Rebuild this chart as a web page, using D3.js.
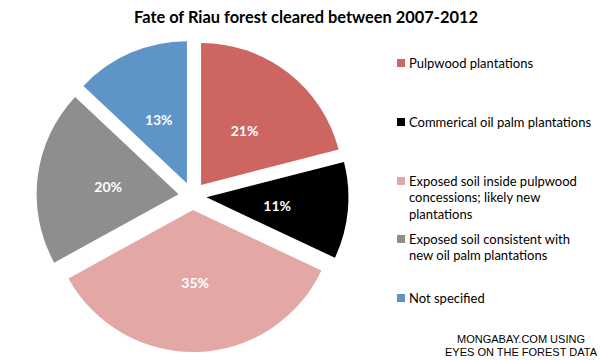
<!DOCTYPE html>
<html><head><meta charset="utf-8">
<script src="https://cdn.jsdelivr.net/npm/d3@7"></script>
<style>body{margin:0;background:#fff}svg{display:block}</style>
</head><body>
<svg id="c" width="600" height="360"></svg>
<script>
const categories = ["Pulpwood plantations","Commerical oil palm plantations","Exposed soil inside pulpwood concessions; likely new plantations","Exposed soil consistent with new oil palm plantations","Not specified"];
const legendLines = [["Pulpwood plantations"],["Commerical oil palm plantations"],["Exposed soil inside pulpwood","concessions; likely new","plantations"],["Exposed soil consistent with","new oil palm plantations"],["Not specified"]];
const values = [21, 11, 35, 20, 13];
const colors = ["#CD6660","#000000","#E3A7A6","#8E8E8E","#5E94C8"];
const title = "Fate of Riau forest cleared between 2007-2012";
const source = ["MONGABAY.COM USING","EYES ON THE FOREST DATA"];

const svg = d3.select("#c");
const font = "Lato, 'Open Sans', sans-serif";
svg.append("text").attr("x",306).attr("y",23).attr("text-anchor","middle")
  .attr("font-family",font).attr("font-weight","bold").attr("font-size",16.4).attr("fill","#000").text(title);

const cx = 192.5, cy = 196, r = 142, explode = 14;
const pie = d3.pie().sort(null).value(d=>d);
const arcs = pie(values);
const arc = d3.arc().innerRadius(0).outerRadius(r);
const g = svg.append("g").attr("transform",`translate(${cx},${cy})`);
const s = g.selectAll("g.s").data(arcs).join("g").attr("class","s")
  .attr("transform", d=>{const a=(d.startAngle+d.endAngle)/2; return `translate(${explode*Math.sin(a)},${-explode*Math.cos(a)})`;});
s.append("path").attr("d",arc).attr("fill",(d,i)=>colors[i]);
s.append("text").attr("transform",d=>{const c=arc.centroid(d); return `translate(${c[0]},${c[1]+2})`;}).attr("dy","0.36em")
  .attr("text-anchor","middle").attr("font-family",font).attr("font-weight","bold").attr("font-size",14)
  .attr("fill","#fff").text(d=>d.data+"%");

const ly = [63,122,181,239,298];
const lg = svg.append("g");
legendLines.forEach((lines,i)=>{
  lg.append("rect").attr("x",397).attr("y",ly[i]-4).attr("width",8).attr("height",8).attr("fill",colors[i]);
  lines.forEach((t,j)=>{
    lg.append("text").attr("x",409).attr("y",ly[i]+j*16.5).attr("dy","0.35em")
      .attr("font-family",font).attr("font-size",13).attr("fill","#000").text(t);
  });
});
source.forEach((t,j)=>{
  svg.append("text").attr("x",521).attr("y",339+j*13).attr("dy","0.35em").attr("text-anchor","middle")
    .attr("font-family","'Liberation Sans', Arial, sans-serif").attr("font-size",11).attr("fill","#000").text(t);
});
</script>
</body></html>
